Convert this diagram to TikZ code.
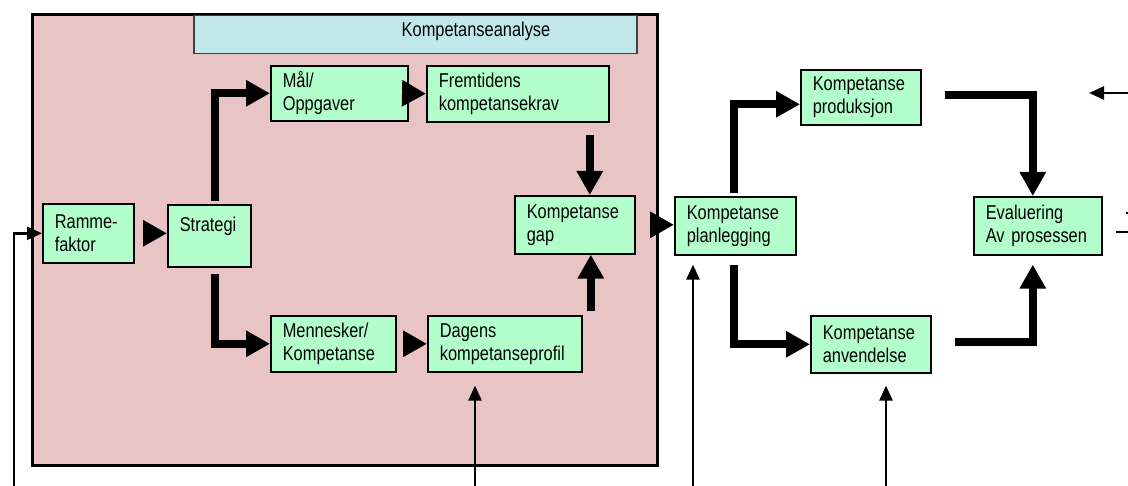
\documentclass[tikz,border=0pt]{standalone}
\usepackage{fontspec}
\setmainfont{Liberation Sans}[FakeStretch=0.82]
\usetikzlibrary{arrows.meta,calc}

\definecolor{pinkbg}{RGB}{232,196,196}
\definecolor{boxgreen}{RGB}{178,255,204}
\definecolor{headcyan}{RGB}{192,232,234}

\begin{document}
\begin{tikzpicture}[x=1pt,y=-1pt,
  box/.style={draw,line width=1.6pt,fill=boxgreen,anchor=north west,align=left,
    inner xsep=12pt,inner ysep=3pt,font=\fontsize{20}{23}\selectfont},
  bigarrow/.style={line width=8pt,-{Triangle[length=24pt,width=25pt]}},
  smallarrow/.style={line width=2.5pt,-{Triangle[length=15pt,width=13pt]}}]
%\draw[step=50,gray,very thin] (0,0) grid (1128,486);

\useasboundingbox (0,0) rectangle (1128,486);

\filldraw[fill=pinkbg,line width=3pt] (32,15) rectangle (657,465);

\node[draw=black!75,line width=1.5pt,fill=headcyan,anchor=north west,
  minimum width=443pt,minimum height=38pt,inner sep=0pt] (header) at (193,15) {};

\node[font=\fontsize{20}{23}\selectfont] (headtext) at (476,31) {Kompetanseanalyse};

\node[box,text width=67pt,minimum height=59pt] (ramme) at (42,203) {Ramme-\\faktor};

\node[box,text width=59pt,minimum height=62pt] (strategi) at (167,204) {Strategi\\\mbox{}};

\node[box,text width=113pt,minimum height=55pt] (maal) at (270,65) {Mål/\\Oppgaver};

\node[box,text width=158pt,minimum height=56pt] (fremtid) at (426,65) {Fremtidens\\kompetansekrav};

\node[box,text width=96pt,minimum height=58pt] (gap) at (514,195) {Kompetanse\\gap};

\node[box,text width=101pt,minimum height=56pt] (menn) at (270,315) {Mennesker/\\Kompetanse};

\node[box,text width=130pt,minimum height=56pt] (dagens) at (427,315) {Dagens\\kompetanseprofil};

\node[box,text width=97pt,minimum height=58pt] (plan) at (674,196) {Kompetanse\\planlegging};

\node[box,text width=96pt,minimum height=55pt] (prod) at (800,69) {Kompetanse\\produksjon};

\node[box,text width=96pt,minimum height=57pt] (anv) at (810,315) {Kompetanse\\anvendelse};

\node[box,text width=104pt,minimum height=58pt] (eval) at (973,196) {Evaluering\\Av prosessen};

% thick flow
\draw[bigarrow] ($(ramme.east)+(9,0)$) -- (strategi.west |- ramme.east);

\draw[bigarrow] ($(strategi.north)+(6,-3)$) |- (maal.west);

\draw[bigarrow] ($(strategi.south)+(6,6)$) |- (menn.west);

\draw[bigarrow] ($(maal.east)+(-5,0)$) -- (fremtid.west);

\draw[bigarrow] ($(menn.east)+(8,0)$) -- (dagens.west);

\draw[bigarrow] ($(fremtid.south -| gap.north)+(15,12)$) -- ($(gap.north)+(15,0)$);

\draw[bigarrow] ($(dagens.north -| gap.south)+(16,-4)$) -- ($(gap.south)+(16,0)$);

\draw[bigarrow] ($(gap.east)+(14,0)$) -- (plan.west |- gap.east);

\draw[bigarrow] ($(plan.north)+(-1,-3)$) |- ($(prod.west)+(0,7)$);

\draw[bigarrow] ($(plan.south)+(-1,9)$) |- (anv.west);

\draw[bigarrow] ($(prod.east)+(23,-2)$) -| ($(eval.north)+(-5,0)$);

\draw[bigarrow] ($(anv.east)+(23,-2)$) -| ($(eval.south)+(-5,9)$);

% thin inputs
\coordinate (inramme) at (14,500);
\coordinate (indagens) at (475,500);
\coordinate (inplan) at (693,500);
\coordinate (inanv) at (886,500);
\coordinate (inright) at (1140,93);
\coordinate (rightend) at (1089,93);
\coordinate (outeval) at (1116,232);
\coordinate (righttick) at (1126,213);

\draw[smallarrow] (inramme) |- (ramme.west);

\draw[smallarrow] (indagens) -- ($(indagens |- dagens.south)+(0,13)$);

\draw[smallarrow] (inplan) -- ($(inplan |- plan.south)+(0,9)$);

\draw[smallarrow] (inanv) -- ($(inanv |- anv.south)+(0,12)$);

\draw[smallarrow] (inright) -- (rightend);

\draw[line width=2.5pt] (outeval) -- +(30,0);

\draw[line width=2pt] (righttick) -- +(20,0);

\end{tikzpicture}
\end{document}
